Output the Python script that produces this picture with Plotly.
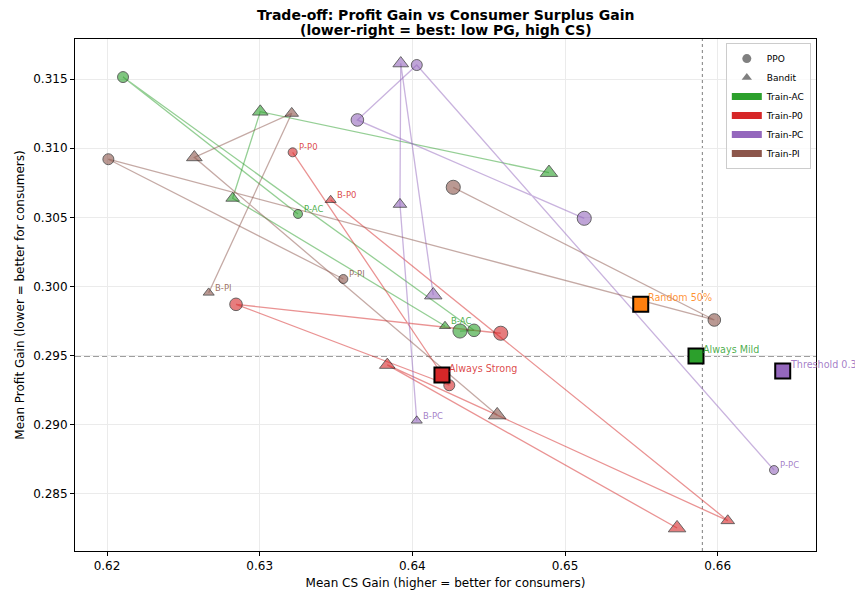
import plotly.graph_objects as go

# ---------------- data ----------------
train_names = ["AC", "P0", "PC", "PI"]

ppo_cs_ac = [0.63251, 0.62105, 0.64404, 0.64312]
ppo_pg_ac = [0.30524, 0.31514, 0.29683, 0.29678]
bandit_cs_ac = [0.64214, 0.62823, 0.63004, 0.64895]
bandit_pg_ac = [0.29714, 0.30638, 0.31264, 0.30823]

ppo_cs_p0 = [0.63216, 0.64242, 0.62845, 0.64579]
ppo_pg_p0 = [0.30970, 0.29286, 0.29871, 0.29662]
bandit_cs_p0 = [0.63465, 0.66066, 0.63836, 0.65734]
bandit_pg_p0 = [0.30625, 0.28307, 0.29433, 0.28254]

ppo_cs_pc = [0.66369, 0.64029, 0.63640, 0.65126]
ppo_pg_pc = [0.28673, 0.31601, 0.31204, 0.30493]
bandit_cs_pc = [0.64029, 0.63919, 0.63924, 0.64137]
bandit_pg_pc = [0.29030, 0.30594, 0.31613, 0.29938]

ppo_cs_pi = [0.63548, 0.62009, 0.65978, 0.64268]
ppo_pg_pi = [0.30054, 0.30920, 0.29758, 0.30717]
bandit_cs_pi = [0.62666, 0.63210, 0.62572, 0.64556]
bandit_pg_pi = [0.29955, 0.31252, 0.30934, 0.29071]

baseline_names = ["Random 50%", "Always Mild", "Always Strong", "Threshold 0.30"]
baseline_cs = [0.65496, 0.65858, 0.64194, 0.66426]
baseline_pg = [0.29871, 0.29498, 0.29360, 0.29389]

ref_pg = 0.295
ref_cs = 0.659

x_ticks = [0.62, 0.63, 0.64, 0.65, 0.66]
y_ticks = [0.285, 0.290, 0.295, 0.300, 0.305, 0.310, 0.315]

title_lines = ["Trade-off: Profit Gain vs Consumer Surplus Gain",
               "(lower-right = best: low PG, high CS)"]

# ---------------- styles ----------------
FONT = "DejaVu Sans"
train_colors = {"AC": "44,160,44", "P0": "214,39,40", "PC": "148,103,189", "PI": "140,86,75"}
baseline_colors = ["255,127,14", "44,160,44", "214,39,40", "148,103,189"]
circle_sizes = [9, 11, 12.6, 14.1]
tri_sizes = [9.6, 11.8, 13.6, 15.2]

series = {
    "AC": (ppo_cs_ac, ppo_pg_ac, bandit_cs_ac, bandit_pg_ac),
    "P0": (ppo_cs_p0, ppo_pg_p0, bandit_cs_p0, bandit_pg_p0),
    "PC": (ppo_cs_pc, ppo_pg_pc, bandit_cs_pc, bandit_pg_pc),
    "PI": (ppo_cs_pi, ppo_pg_pi, bandit_cs_pi, bandit_pg_pi),
}

fig = go.Figure()
annotations = []

# connecting lines first
for name in train_names:
    c = train_colors[name]
    pcs, ppg, bcs, bpg = series[name]
    for xs, ys in ((pcs, ppg), (bcs, bpg)):
        fig.add_trace(go.Scatter(
            x=xs, y=ys, mode="lines",
            line=dict(color=f"rgba({c},0.5)", width=1.3),
            showlegend=False, hoverinfo="skip"))

# markers
for name in train_names:
    c = train_colors[name]
    pcs, ppg, bcs, bpg = series[name]
    fig.add_trace(go.Scatter(
        x=pcs, y=ppg, mode="markers",
        marker=dict(symbol="circle", size=circle_sizes, color=f"rgba({c},0.85)",
                    line=dict(color="rgba(20,20,20,0.9)", width=1)),
        showlegend=False))
    fig.add_trace(go.Scatter(
        x=bcs, y=bpg, mode="markers",
        marker=dict(symbol="triangle-up", size=tri_sizes, color=f"rgba({c},0.85)",
                    line=dict(color="rgba(20,20,20,0.9)", width=1)),
        showlegend=False))
    annotations.append(dict(x=pcs[0], y=ppg[0], text=f"P-{name}", showarrow=False,
                            xanchor="left", yanchor="bottom", xshift=4, yshift=-2,
                            font=dict(family=FONT, size=8.5, color=f"rgba({c},0.85)")))
    annotations.append(dict(x=bcs[0], y=bpg[0], text=f"B-{name}", showarrow=False,
                            xanchor="left", yanchor="bottom", xshift=4, yshift=-2,
                            font=dict(family=FONT, size=8.5, color=f"rgba({c},0.85)")))

# baselines
fig.add_trace(go.Scatter(
    x=baseline_cs, y=baseline_pg, mode="markers",
    marker=dict(symbol="square", size=15, color=[f"rgb({c})" for c in baseline_colors],
                line=dict(color="black", width=2)),
    showlegend=False))
for i, nm in enumerate(baseline_names):
    annotations.append(dict(x=baseline_cs[i], y=baseline_pg[i], text=nm, showarrow=False,
                            xanchor="left", yanchor="bottom", xshift=5, yshift=-1,
                            font=dict(family=FONT, size=9.6, color=f"rgba({baseline_colors[i]},0.85)")))

# title as two centred lines above the axes
for line, ypos in zip(title_lines, [1.0469, 1.0176]):
    annotations.append(dict(xref="paper", yref="paper", x=0.5, y=ypos, text=f"<b>{line}</b>",
                            showarrow=False, xanchor="center", yanchor="middle",
                            font=dict(family=FONT, size=14, color="black")))

# legend dummies
fig.add_trace(go.Scatter(x=[None], y=[None], mode="markers", name="PPO",
                         marker=dict(symbol="circle", size=9, color="gray")))
fig.add_trace(go.Scatter(x=[None], y=[None], mode="markers", name="Bandit",
                         marker=dict(symbol="triangle-up", size=9, color="gray")))
for name in train_names:
    fig.add_trace(go.Scatter(x=[None], y=[None], mode="lines", name=f"Train-{name}",
                             line=dict(color=f"rgb({train_colors[name]})", width=7)))

shapes = [
    dict(type="line", xref="x domain", yref="y", x0=0, x1=1, y0=ref_pg, y1=ref_pg,
         line=dict(color="rgba(40,40,40,0.9)", width=1.5, dash="6px,3px"), layer="below"),
    dict(type="line", xref="x", yref="y domain", x0=ref_cs, x1=ref_cs, y0=0, y1=1,
         line=dict(color="rgba(120,120,120,0.8)", width=1.2, dash="dot"), layer="below"),
]

# page body has an 8px margin, so the figure is offset by (8, 8)
fig.update_layout(
    width=855, height=586,
    margin=dict(l=67, r=47, t=31, b=43, autoexpand=False),
    paper_bgcolor="white", plot_bgcolor="white",
    font=dict(family=FONT, size=12, color="black"),
    shapes=shapes,
    annotations=annotations,
    showlegend=True,
    legend=dict(x=0.993, xanchor="right", y=0.992, yanchor="top",
                bgcolor="rgba(255,255,255,0.8)", bordercolor="#cccccc", borderwidth=1,
                font=dict(family=FONT, size=9), itemwidth=30, tracegroupgap=0),
)
fig.update_xaxes(
    range=[0.617904, 0.66644], tickvals=x_ticks, ticktext=[f"{v:.2f}" for v in x_ticks],
    showgrid=True, gridcolor="#ebebeb", gridwidth=1, zeroline=False,
    showline=True, linecolor="black", linewidth=1, mirror=True,
    ticks="outside", ticklen=4, tickcolor="black", automargin=False,
    title=dict(text="Mean CS Gain (higher = better for consumers)", font=dict(size=12), standoff=6),
    tickfont=dict(size=12))
fig.update_yaxes(
    range=[0.280878, 0.317892], tickvals=y_ticks, ticktext=[f"{v:.3f}" for v in y_ticks],
    showgrid=True, gridcolor="#ebebeb", gridwidth=1, zeroline=False,
    showline=True, linecolor="black", linewidth=1, mirror=True,
    ticks="outside", ticklen=4, tickcolor="black", automargin=False,
    title=dict(text="Mean Profit Gain (lower = better for consumers)", font=dict(size=12), standoff=6),
    tickfont=dict(size=12))

fig.write_html("out.html")
